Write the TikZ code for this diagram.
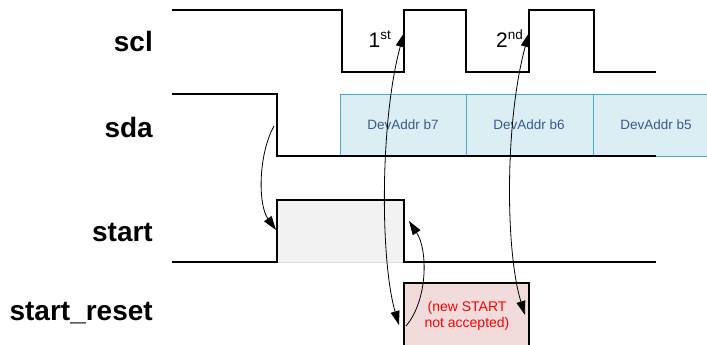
\documentclass[tikz,border=0pt]{standalone}
\usepackage{fontspec}
\setmainfont{Liberation Sans}
\usetikzlibrary{arrows.meta}

\definecolor{bitfill}{HTML}{DAEEF3}
\definecolor{bitline}{HTML}{4BACC6}
\definecolor{bittext}{HTML}{3B5A8A}
\definecolor{startfill}{HTML}{F2F2F2}
\definecolor{resetfill}{HTML}{F2DCDB}

\begin{document}
\begin{tikzpicture}[x=1pt,y=-1pt,
    wave/.style={line width=2.4pt,line join=miter},
    sig/.style={anchor=base east,inner sep=0pt,font=\fontsize{28}{32}\selectfont\bfseries},
    bit/.style={draw=bitline,fill=bitfill,line width=0.8pt},
    bitlabel/.style={text=bittext,font=\fontsize{13.5}{16}\selectfont},
    edgelabel/.style={anchor=base east,inner sep=0pt,font=\fontsize{21}{24}\selectfont},
    cause/.style={line width=0.8pt,>={Triangle[length=14pt,width=9pt]},<->},
    causeend/.style={line width=0.8pt,>={Triangle[length=14pt,width=9pt]},->}]
    \useasboundingbox (0,0) rectangle (707,345);

    % signal names
    \node[sig] (scl) at (153,52) {scl};
    \node[sig] (sda) at (153,137) {sda};
    \node[sig] (start) at (153,241) {start};
    \node[sig] (startreset) at (153,320) {start\_reset};

    % sda bit boxes
    \draw[bit] (340,94) rectangle (466,156);
    \draw[bit] (466,94) rectangle (593,156);
    \draw[bit] (593,94) rectangle (720,156);
    \node[bitlabel] (b7) at (403,125) {DevAddr b7};
    \node[bitlabel] (b6) at (529,125) {DevAddr b6};
    \node[bitlabel] (b5) at (656,125) {DevAddr b5};

    % start pulse and start_reset pulse
    \fill[startfill] (277,200) rectangle (404,262);
    \draw[black!15,line width=0.8pt] (277,262)--(404,262);
    \fill[resetfill] (404,283) rectangle (529,350);
    \node[text=red,align=center,font=\fontsize{14}{16.5}\selectfont] (note) at (467,316) {(new START\\not accepted)};

    % waveforms
    \draw[wave] (172,10)--(342,10)--(342,72)--(404,72)--(404,10)--(466,10)--(466,72)--(529,72)--(529,10)--(594,10)--(594,72)--(656,72);
    \draw[wave] (172,94)--(277,94)--(277,156)--(656,156);
    \draw[wave] (172,262)--(277,262)--(277,200)--(404,200)--(404,262)--(656,262);
    \draw[wave] (404,350)--(404,283)--(529,283)--(529,350);

    % edge labels
    \node[edgelabel] (first) at (391,48) {1\raisebox{8pt}{\fontsize{13.5}{14}\selectfont st}};
    \node[edgelabel] (second) at (523,48) {2\raisebox{8pt}{\fontsize{13.5}{14}\selectfont nd}};

    % cause and effect
    \coordinate (sdafall) at (274,126);
    \coordinate (startrise) at (276,230);
    \coordinate (sclfirst) at (404,33);
    \coordinate (sclsecond) at (529,33);
    \coordinate (resetrise) at (399,325);
    \coordinate (resetrise2) at (406,326);
    \coordinate (resetfall) at (525,315);
    \coordinate (startfall) at (409,221);
    \draw[causeend] (sdafall) .. controls (258,155) and (258,205) .. (startrise);
    \draw[cause] (sclfirst) .. controls (380,120) and (380,260) .. (resetrise);
    \draw[cause] (sclsecond) .. controls (505,120) and (505,250) .. (resetfall);
    \draw[causeend] (resetrise2) .. controls (428,300) and (428,250) .. (startfall);
\end{tikzpicture}
\end{document}
